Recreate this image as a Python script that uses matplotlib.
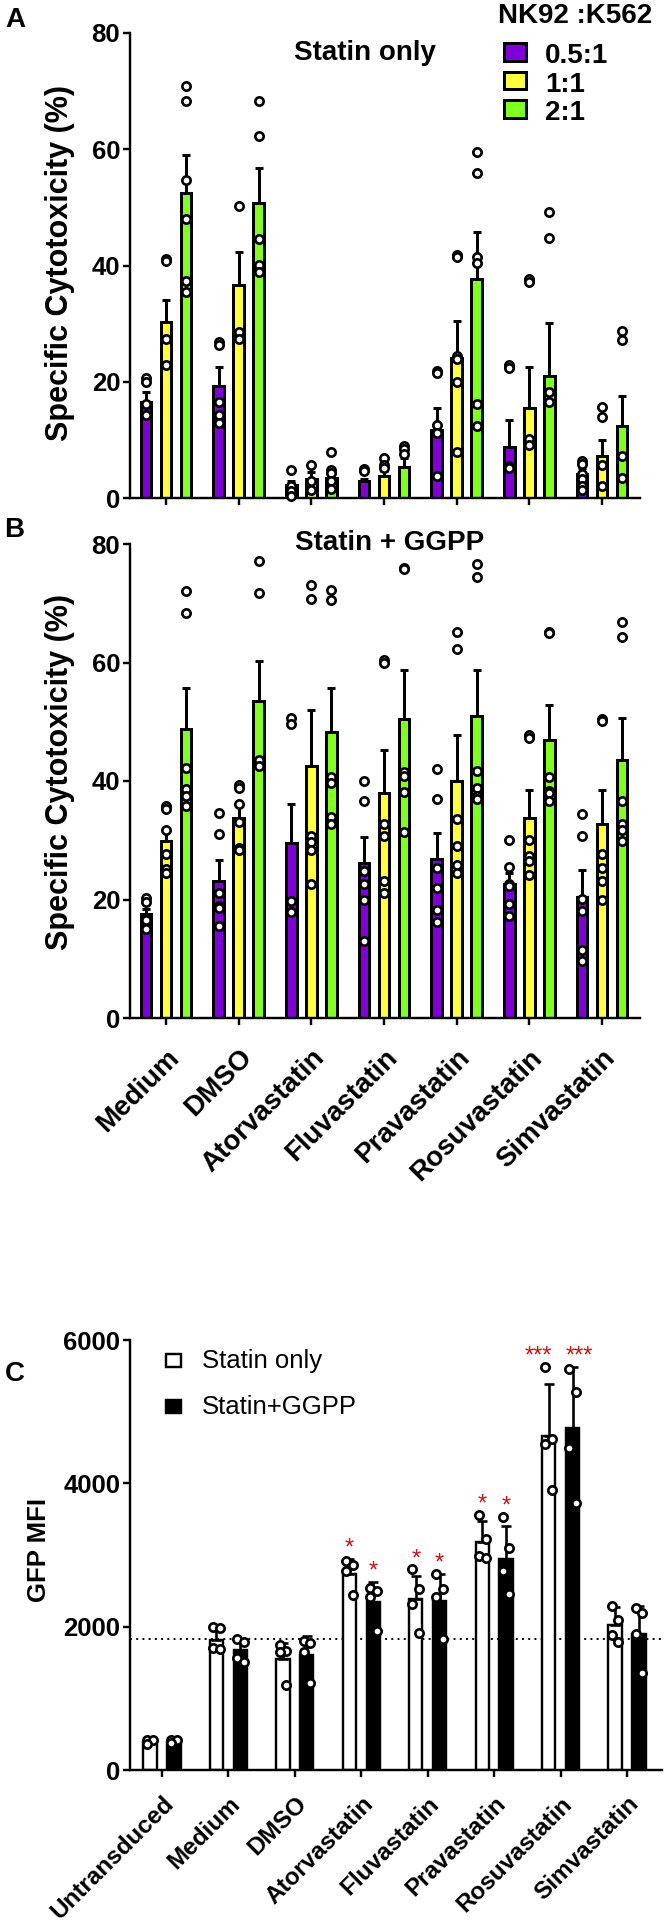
import matplotlib
matplotlib.use("Agg")
import matplotlib.pyplot as plt
from matplotlib.patches import Rectangle
import numpy as np

plt.rcParams['font.family'] = ['Liberation Sans', 'DejaVu Sans']

# ---------------- data ----------------
groups = ["Medium", "DMSO", "Atorvastatin", "Fluvastatin", "Pravastatin",
          "Rosuvastatin", "Simvastatin"]
ratios = ["0.5:1", "1:1", "2:1"]

# Panel A: statin only (mean, SEM, individual points)
a_mean_05 = [16.5, 19.2, 2.2, 2.9, 11.7, 8.7, 4.1]
a_sem_05 = [1.8, 3.3, 0.8, 0.4, 3.8, 4.8, 1.0]
a_mean_11 = [30.3, 36.7, 3.3, 3.8, 24.1, 15.4, 7.2]
a_sem_11 = [3.7, 5.6, 1.2, 0.8, 6.3, 7.1, 2.7]
a_mean_21 = [52.5, 50.7, 3.5, 5.3, 37.7, 21.0, 12.4]
a_sem_21 = [6.5, 6.1, 1.3, 1.6, 8.0, 9.1, 5.2]
a_pts_05 = [[20.6, 20.0, 16.2, 14.2], [26.8, 26.4, 16.6, 14.2, 12.9],
            [4.8, 2.0, 1.2, 0.4], [5.0, 4.6], [21.8, 21.5, 12.6, 11.2, 3.8],
            [22.8, 22.4, 5.5, 5.2], [6.3, 5.8, 4.2, 3.3, 2.0, 1.4]]
a_pts_11 = [[41.2, 40.8, 27.4, 22.8], [50.3, 28.5, 27.3],
            [5.7, 3.0, 1.4], [6.9, 5.6, 5.1], [41.8, 41.4, 24.5, 24.0, 19.9, 8.0],
            [37.7, 37.2, 10.1, 9.2], [15.6, 14.0, 5.6, 2.0]]
a_pts_21 = [[70.8, 68.3, 54.7, 48.0, 37.4, 35.4], [68.3, 62.2, 44.6, 40.1, 38.8],
            [7.9, 4.8, 4.3, 3.0, 1.5], [9.0, 8.5, 7.6],
            [59.5, 55.9, 41.5, 40.5, 16.2, 12.4], [49.2, 44.8, 18.3, 16.6],
            [28.8, 27.1, 7.2, 3.4]]

# Panel B: statin + GGPP
b_mean_05 = [17.5, 23.1, 29.5, 26.1, 26.8, 22.7, 20.4]
b_sem_05 = [0.9, 3.5, 6.7, 4.4, 4.5, 1.8, 4.6]
b_mean_11 = [29.8, 33.8, 42.5, 38.0, 40.0, 33.8, 32.7]
b_sem_11 = [2.0, 2.2, 9.4, 7.3, 7.7, 4.7, 5.8]
b_mean_21 = [48.8, 53.5, 48.3, 50.4, 51.0, 47.0, 43.5]
b_sem_21 = [6.9, 6.7, 7.4, 8.3, 7.8, 5.8, 7.2]
b_pts_05 = [[20.3, 19.5, 16.6, 15.0], [34.6, 31.0, 21.1, 18.9, 18.5, 15.5],
            [50.7, 49.6, 19.7, 17.9], [40.0, 36.7, 24.8, 22.6, 19.9, 13.0],
            [42.1, 37.0, 25.4, 22.0, 18.3, 16.2], [30.1, 25.5, 22.7, 22.3, 19.2, 17.2],
            [34.5, 30.7, 20.1, 18.1, 11.4, 9.6]]
b_pts_11 = [[35.8, 35.3, 31.8, 27.6, 25.1, 24.5], [39.3, 38.8, 36.2, 33.0, 28.7, 28.4],
            [73.1, 70.8, 30.7, 29.7, 28.3, 22.6], [60.5, 60.0, 32.7, 30.7, 23.1, 21.1],
            [65.2, 62.3, 33.6, 29.1, 25.8, 24.4], [47.7, 47.2, 30.1, 27.4, 26.5, 24.2],
            [50.4, 50.1, 27.6, 25.4, 23.1, 19.9]]
b_pts_21 = [[72.0, 68.3, 42.2, 38.6, 37.5, 35.7], [77.2, 71.8, 43.6, 42.5],
            [72.3, 70.6, 40.6, 39.6, 34.0, 32.8], [75.9, 75.7, 41.5, 40.8, 38.1, 31.4],
            [76.7, 74.4, 41.7, 38.9, 37.5, 37.0], [65.2, 64.9, 40.7, 38.3, 38.0, 36.6],
            [66.9, 64.3, 36.7, 32.8, 31.8, 29.9]]

# Panel C: GFP MFI
c_groups = ["Untransduced", "Medium", "DMSO", "Atorvastatin", "Fluvastatin",
            "Pravastatin", "Rosuvastatin", "Simvastatin"]
c_series = ["Statin only", "Statin+GGPP"]
c_mean_only = [395, 1820, 1550, 2740, 2380, 3180, 4660, 2020]
c_sd_only = [20, 165, 220, 200, 330, 290, 730, 250]
c_mean_ggpp = [395, 1680, 1610, 2340, 2360, 2950, 4770, 1900]
c_sd_ggpp = [20, 150, 260, 280, 380, 450, 850, 390]
c_pts_only = [[420, 415, 365], [1990, 1985, 1700, 1690], [1740, 1660, 1640, 1190],
              [2920, 2860, 2770, 2440], [2800, 2530, 2310, 1910],
              [3560, 3220, 2990, 2960], [5630, 4620, 4550, 3910],
              [2290, 2100, 1880, 1780]]
c_pts_ggpp = [[420, 412, 375], [1830, 1790, 1565, 1505], [1800, 1770, 1650, 1220],
              [2545, 2500, 2410, 1945], [2730, 2530, 2410, 1830],
              [3530, 3100, 2780, 2460], [5600, 5270, 4490, 3720],
              [2260, 2185, 1900, 1360]]
c_sig_only = ["", "", "", "*", "*", "*", "***", ""]
c_sig_ggpp = ["", "", "", "*", "*", "*", "***", ""]
c_reference = 1830  # dotted line (Medium level)

# ---------------- layout helpers ----------------
W, H, DPI = 664, 1925, 100
PX = 72.0 / DPI
fig = plt.figure(figsize=(W / DPI, H / DPI), dpi=DPI)


def fx(x):
    return x / W


def fy(y):
    return 1 - y / H


def rect(l, t, r, b):
    return [fx(l), fy(b), fx(r) - fx(l), fy(t) - fy(b)]


def style(ax):
    for s in ['top', 'right']:
        ax.spines[s].set_visible(False)
    for s in ['left', 'bottom']:
        ax.spines[s].set_linewidth(2.4 * PX)
    ax.tick_params(width=2.4 * PX, length=7 * PX, direction='out', pad=2)


colors = ['#8000D8', '#FFFF40', '#80FF20']
offsets = [-0.275, 0.0, 0.275]
bw = 0.145


def draw_cyto(ax, means, sems, pts):
    x = np.arange(len(groups))
    for m, s, p, col, off in zip(means, sems, pts, colors, offsets):
        ax.bar(x + off, m, width=bw, color=col, edgecolor='black',
               linewidth=3 * PX, zorder=2)
        ax.errorbar(x + off, m, yerr=[np.zeros(len(m)), s], fmt='none',
                    ecolor='black', elinewidth=3 * PX, capsize=3.0,
                    capthick=3 * PX, zorder=3)
        for i, vals in enumerate(p):
            ax.plot(np.full(len(vals), x[i] + off), vals, 'o', ls='none',
                    ms=6, mfc='white', mec='black', mew=1.9, zorder=4,
                    clip_on=False)
    ax.set_xlim(-0.496, 6.523)
    ax.set_ylim(0, 80)
    ax.set_yticks([0, 20, 40, 60, 80])
    ax.set_yticklabels(['0', '20', '40', '60', '80'], fontsize=18.5,
                       fontweight='bold')
    ax.set_xticks(x)
    style(ax)


axA = fig.add_axes(rect(130, 33, 640, 498))
draw_cyto(axA, [a_mean_05, a_mean_11, a_mean_21], [a_sem_05, a_sem_11, a_sem_21],
          [a_pts_05, a_pts_11, a_pts_21])
axA.set_xticklabels([])

axB = fig.add_axes(rect(130, 544, 640, 1018))
draw_cyto(axB, [b_mean_05, b_mean_11, b_mean_21], [b_sem_05, b_sem_11, b_sem_21],
          [b_pts_05, b_pts_11, b_pts_21])
axB.set_xticklabels(groups, rotation=45, ha='right', rotation_mode='anchor',
                    fontsize=20, fontweight='bold')
axB.tick_params(axis='x', pad=14)

# Panel C
axC = fig.add_axes(rect(130, 1340, 662, 1770))
xc = np.arange(len(c_groups))
c_off = [-0.18, 0.18]
c_bw = 0.2
for k, (means, sds, pts, sig, face, off) in enumerate([
        (c_mean_only, c_sd_only, c_pts_only, c_sig_only, 'white', c_off[0]),
        (c_mean_ggpp, c_sd_ggpp, c_pts_ggpp, c_sig_ggpp, 'black', c_off[1])]):
    axC.bar(xc + off, means, width=c_bw, color=face, edgecolor='black',
            linewidth=2.4 * PX, zorder=2)
    axC.errorbar(xc + off, means, yerr=[np.zeros(len(means)), sds], fmt='none',
                 ecolor='black', elinewidth=2.6 * PX, capsize=3.4,
                 capthick=2.6 * PX, zorder=3)
    for i, vals in enumerate(pts):
        jit = np.array([-0.05 if j % 2 == 0 else 0.05 for j in range(len(vals))])
        axC.plot(xc[i] + off + jit, vals, 'o', ls='none', ms=6, mfc='white',
                 mec='black', mew=1.9, zorder=4)
        if sig[i]:
            top = max(max(vals), means[i] + sds[i])
            if len(sig[i]) > 1:
                sx, sha = (xc[i] + off + 0.05, 'right') if k == 0 else \
                          (xc[i] + off - 0.1, 'left')
            else:
                sx, sha = xc[i] + off, 'center'
            axC.text(sx, top + 60, sig[i], color='#D01010',
                     fontsize=17, ha=sha, va='baseline')
axC.axhline(c_reference, color='black', lw=1.4, ls=(0, (1, 2.2)), zorder=1)
axC.set_xlim(-0.482, 7.527)
axC.set_ylim(0, 6000)
axC.set_yticks([0, 2000, 4000, 6000])
axC.set_yticklabels(['0', '2000', '4000', '6000'], fontsize=18.5,
                    fontweight='bold')
axC.set_xticks(xc)
axC.set_xticklabels(c_groups, rotation=45, ha='right', rotation_mode='anchor',
                    fontsize=17.5, fontweight='bold')
style(axC)
axC.tick_params(axis='x', pad=11)

# ---------------- text & legends ----------------
fig.text(fx(5), fy(27), "A", fontsize=20, fontweight='bold', va='baseline')
fig.text(fx(4), fy(537), "B", fontsize=20, fontweight='bold', va='baseline')
fig.text(fx(5), fy(1381), "C", fontsize=20, fontweight='bold', va='baseline')

fig.text(fx(60), fy(263), "Specific Cytotoxicity (%)", rotation=90,
         ha='center', va='center', fontsize=22, fontweight='bold')
fig.text(fx(60), fy(772), "Specific Cytotoxicity (%)", rotation=90,
         ha='center', va='center', fontsize=22, fontweight='bold')
fig.text(fx(39), fy(1550), "GFP MFI", rotation=90, ha='center', va='center',
         fontsize=18.5, fontweight='bold')

fig.text(fx(365), fy(60), "Statin only", ha='center', va='baseline',
         fontsize=20, fontweight='bold')
fig.text(fx(390), fy(550), "Statin + GGPP", ha='center', va='baseline',
         fontsize=20, fontweight='bold')

# legend A
fig.text(fx(498), fy(23), "NK92 :K562", ha='left', va='baseline', fontsize=20,
         fontweight='bold')
for k, (lab, col) in enumerate(zip(ratios, colors)):
    top = 43.5 + k * 28.5
    fig.add_artist(Rectangle((fx(503.5), fy(top + 17)), fx(22), 17 / H,
                             transform=fig.transFigure, facecolor=col,
                             edgecolor='black', lw=3 * PX))
    fig.text(fx(545), fy(top + 19.5), lab, ha='left', va='baseline',
             fontsize=20, fontweight='bold')

# legend C
for k, (lab, face) in enumerate(zip(c_series, ['white', 'black'])):
    top = 1354 + k * 46
    fig.add_artist(Rectangle((fx(166), fy(top + 13)), fx(15), 13 / H,
                             transform=fig.transFigure, facecolor=face,
                             edgecolor='black', lw=2.4 * PX))
    fig.text(fx(202), fy(top + 14), lab, ha='left', va='baseline', fontsize=18.5)

fig.savefig("out.png", dpi=DPI)
